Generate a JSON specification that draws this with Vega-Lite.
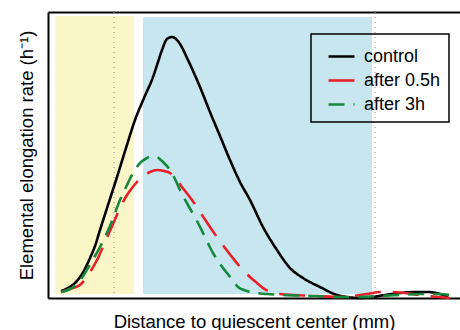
{
  "$schema": "https://vega.github.io/schema/vega-lite/v6.json",
  "width": 412,
  "height": 286,
  "padding": {"left": 48, "top": 12, "right": 0, "bottom": 32},
  "autosize": {"type": "none"},
  "background": "white",
  "config": {
    "view": {"stroke": null},
    "font": "Liberation Sans",
    "axis": {
      "domainColor": "black",
      "domainWidth": 2,
      "ticks": false,
      "labels": false,
      "grid": false,
      "titleFont": "Liberation Sans",
      "titleFontSize": 18.5,
      "titleFontWeight": "normal",
      "titleColor": "black"
    },
    "legend": {"strokeWidth": 1.5}
  },
  "datasets": {
    "zones": [
      {"zone": "meristem", "start": 0.035, "end": 0.43, "low": 0.008, "high": 0.564},
      {"zone": "elongation", "start": 0.475, "end": 1.62, "low": 0.008, "high": 0.562}
    ],
    "marks": [
      {"pos": 0.33},
      {"pos": 1.635}
    ],
    "curves": [
      {"series": "control", "x": 0.065, "y": 0.014},
      {"series": "control", "x": 0.100, "y": 0.020},
      {"series": "control", "x": 0.135, "y": 0.030},
      {"series": "control", "x": 0.170, "y": 0.048},
      {"series": "control", "x": 0.210, "y": 0.080},
      {"series": "control", "x": 0.235, "y": 0.104},
      {"series": "control", "x": 0.260, "y": 0.136},
      {"series": "control", "x": 0.300, "y": 0.186},
      {"series": "control", "x": 0.345, "y": 0.242},
      {"series": "control", "x": 0.390, "y": 0.300},
      {"series": "control", "x": 0.435, "y": 0.356},
      {"series": "control", "x": 0.480, "y": 0.400},
      {"series": "control", "x": 0.525, "y": 0.442},
      {"series": "control", "x": 0.550, "y": 0.472},
      {"series": "control", "x": 0.570, "y": 0.496},
      {"series": "control", "x": 0.595, "y": 0.518},
      {"series": "control", "x": 0.620, "y": 0.522},
      {"series": "control", "x": 0.640, "y": 0.518},
      {"series": "control", "x": 0.660, "y": 0.508},
      {"series": "control", "x": 0.700, "y": 0.476},
      {"series": "control", "x": 0.760, "y": 0.422},
      {"series": "control", "x": 0.810, "y": 0.372},
      {"series": "control", "x": 0.860, "y": 0.324},
      {"series": "control", "x": 0.910, "y": 0.276},
      {"series": "control", "x": 0.960, "y": 0.232},
      {"series": "control", "x": 1.010, "y": 0.196},
      {"series": "control", "x": 1.075, "y": 0.142},
      {"series": "control", "x": 1.145, "y": 0.096},
      {"series": "control", "x": 1.210, "y": 0.060},
      {"series": "control", "x": 1.275, "y": 0.040},
      {"series": "control", "x": 1.360, "y": 0.022},
      {"series": "control", "x": 1.445, "y": 0.006},
      {"series": "control", "x": 1.495, "y": 0.002},
      {"series": "control", "x": 1.560, "y": 0.000},
      {"series": "control", "x": 1.620, "y": 0.002},
      {"series": "control", "x": 1.685, "y": 0.006},
      {"series": "control", "x": 1.760, "y": 0.010},
      {"series": "control", "x": 1.835, "y": 0.012},
      {"series": "control", "x": 1.895, "y": 0.012},
      {"series": "control", "x": 1.960, "y": 0.008},
      {"series": "control", "x": 2.000, "y": 0.002},
      {"series": "after 0.5h", "x": 0.065, "y": 0.012},
      {"series": "after 0.5h", "x": 0.110, "y": 0.018},
      {"series": "after 0.5h", "x": 0.160, "y": 0.026},
      {"series": "after 0.5h", "x": 0.210, "y": 0.052},
      {"series": "after 0.5h", "x": 0.245, "y": 0.076},
      {"series": "after 0.5h", "x": 0.285, "y": 0.112},
      {"series": "after 0.5h", "x": 0.325, "y": 0.148},
      {"series": "after 0.5h", "x": 0.360, "y": 0.180},
      {"series": "after 0.5h", "x": 0.395, "y": 0.206},
      {"series": "after 0.5h", "x": 0.420, "y": 0.220},
      {"series": "after 0.5h", "x": 0.445, "y": 0.232},
      {"series": "after 0.5h", "x": 0.470, "y": 0.242},
      {"series": "after 0.5h", "x": 0.510, "y": 0.252},
      {"series": "after 0.5h", "x": 0.545, "y": 0.256},
      {"series": "after 0.5h", "x": 0.580, "y": 0.254},
      {"series": "after 0.5h", "x": 0.610, "y": 0.250},
      {"series": "after 0.5h", "x": 0.640, "y": 0.238},
      {"series": "after 0.5h", "x": 0.670, "y": 0.222},
      {"series": "after 0.5h", "x": 0.720, "y": 0.196},
      {"series": "after 0.5h", "x": 0.770, "y": 0.166},
      {"series": "after 0.5h", "x": 0.820, "y": 0.136},
      {"series": "after 0.5h", "x": 0.870, "y": 0.108},
      {"series": "after 0.5h", "x": 0.920, "y": 0.082},
      {"series": "after 0.5h", "x": 0.965, "y": 0.060},
      {"series": "after 0.5h", "x": 1.010, "y": 0.042},
      {"series": "after 0.5h", "x": 1.045, "y": 0.030},
      {"series": "after 0.5h", "x": 1.075, "y": 0.020},
      {"series": "after 0.5h", "x": 1.110, "y": 0.012},
      {"series": "after 0.5h", "x": 1.160, "y": 0.008},
      {"series": "after 0.5h", "x": 1.225, "y": 0.006},
      {"series": "after 0.5h", "x": 1.345, "y": 0.004},
      {"series": "after 0.5h", "x": 1.460, "y": 0.002},
      {"series": "after 0.5h", "x": 1.525, "y": 0.004},
      {"series": "after 0.5h", "x": 1.595, "y": 0.008},
      {"series": "after 0.5h", "x": 1.660, "y": 0.012},
      {"series": "after 0.5h", "x": 1.725, "y": 0.012},
      {"series": "after 0.5h", "x": 1.785, "y": 0.010},
      {"series": "after 0.5h", "x": 1.860, "y": 0.006},
      {"series": "after 0.5h", "x": 2.010, "y": 0.000},
      {"series": "after 3h", "x": 0.065, "y": 0.012},
      {"series": "after 3h", "x": 0.110, "y": 0.018},
      {"series": "after 3h", "x": 0.150, "y": 0.030},
      {"series": "after 3h", "x": 0.200, "y": 0.060},
      {"series": "after 3h", "x": 0.235, "y": 0.084},
      {"series": "after 3h", "x": 0.260, "y": 0.102},
      {"series": "after 3h", "x": 0.310, "y": 0.144},
      {"series": "after 3h", "x": 0.360, "y": 0.196},
      {"series": "after 3h", "x": 0.395, "y": 0.226},
      {"series": "after 3h", "x": 0.425, "y": 0.250},
      {"series": "after 3h", "x": 0.460, "y": 0.270},
      {"series": "after 3h", "x": 0.495, "y": 0.280},
      {"series": "after 3h", "x": 0.520, "y": 0.284},
      {"series": "after 3h", "x": 0.545, "y": 0.282},
      {"series": "after 3h", "x": 0.575, "y": 0.272},
      {"series": "after 3h", "x": 0.610, "y": 0.256},
      {"series": "after 3h", "x": 0.635, "y": 0.238},
      {"series": "after 3h", "x": 0.660, "y": 0.216},
      {"series": "after 3h", "x": 0.700, "y": 0.186},
      {"series": "after 3h", "x": 0.745, "y": 0.154},
      {"series": "after 3h", "x": 0.785, "y": 0.122},
      {"series": "after 3h", "x": 0.825, "y": 0.090},
      {"series": "after 3h", "x": 0.860, "y": 0.068},
      {"series": "after 3h", "x": 0.895, "y": 0.050},
      {"series": "after 3h", "x": 0.925, "y": 0.034},
      {"series": "after 3h", "x": 0.950, "y": 0.022},
      {"series": "after 3h", "x": 0.980, "y": 0.016},
      {"series": "after 3h", "x": 1.010, "y": 0.012},
      {"series": "after 3h", "x": 1.095, "y": 0.008},
      {"series": "after 3h", "x": 1.175, "y": 0.006},
      {"series": "after 3h", "x": 1.345, "y": 0.004},
      {"series": "after 3h", "x": 1.460, "y": 0.002},
      {"series": "after 3h", "x": 1.560, "y": 0.002},
      {"series": "after 3h", "x": 1.660, "y": 0.004},
      {"series": "after 3h", "x": 1.760, "y": 0.006},
      {"series": "after 3h", "x": 1.860, "y": 0.008},
      {"series": "after 3h", "x": 1.960, "y": 0.008},
      {"series": "after 3h", "x": 2.035, "y": 0.004}
    ]
  },
  "layer": [
    {
      "data": {"name": "zones"},
      "mark": {"type": "rect"},
      "encoding": {
        "x": {"field": "start", "type": "quantitative", "scale": {"domain": [0, 2.06], "nice": false, "zero": false},
              "axis": {"orient": "bottom", "title": "Distance to quiescent center (mm)", "titlePadding": 14}},
        "x2": {"field": "end"},
        "y": {"field": "low", "type": "quantitative", "scale": {"domain": [0, 0.572], "nice": false},
              "axis": {"orient": "left", "title": "Elemental elongation rate (h⁻¹)", "titlePadding": 12}},
        "y2": {"field": "high"},
        "fill": {"field": "zone", "type": "nominal",
                 "scale": {"domain": ["meristem", "elongation"], "range": ["#faf6c8", "#c8e6f0"]},
                 "legend": null}
      }
    },
    {
      "data": {"name": "marks"},
      "mark": {"type": "rule", "color": "#909090", "strokeWidth": 1, "strokeDash": [1, 4]},
      "encoding": {
        "x": {"field": "pos", "type": "quantitative", "axis": {"orient": "top", "title": null}}
      }
    },
    {
      "data": {"name": "curves"},
      "mark": {"type": "line", "interpolate": "monotone", "strokeWidth": 2.6, "strokeCap": "butt"},
      "encoding": {
        "x": {"field": "x", "type": "quantitative", "axis": null},
        "y": {"field": "y", "type": "quantitative", "axis": null},
        "color": {"field": "series", "type": "nominal", "sort": null,
                  "scale": {"domain": ["control", "after 0.5h", "after 3h"], "range": ["#000000", "#e8202a", "#15893c"]},
                  "legend": {"title": null, "orient": "none", "legendX": 263, "legendY": 22,
                             "strokeColor": "black", "padding": 8, "symbolOffset": 8,
                             "symbolType": "stroke", "symbolSize": 676, "symbolStrokeWidth": 2.6,
                             "labelFont": "Liberation Sans", "labelFontSize": 18, "labelColor": "black",
                             "labelOffset": 8, "rowPadding": -1}},
        "strokeDash": {"field": "series", "type": "nominal", "sort": null,
                       "scale": {"domain": ["control", "after 0.5h", "after 3h"], "range": [[1, 0], [26, 12], [16, 9]]},
                       "legend": null}
      }
    }
  ],
  "resolve": {"axis": {"x": "independent", "y": "independent"}}
}
